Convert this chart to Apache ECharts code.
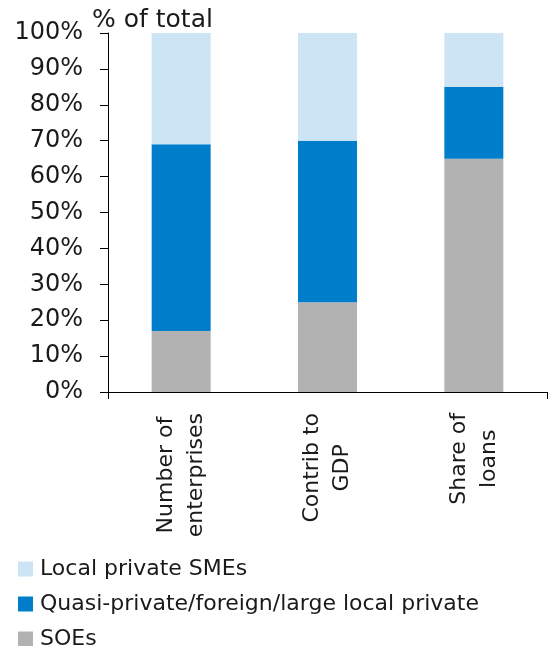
<!DOCTYPE html>
<html>
<head>
<meta charset="utf-8">
<script src="https://cdn.jsdelivr.net/npm/echarts@6/dist/echarts.min.js"></script>
<style>
  html, body { margin: 0; padding: 0; background: #fff; }
  #chart { width: 549px; height: 646px; }
</style>
</head>
<body>
<div id="chart"></div>
<script>
// Breakdown of enterprises, GDP and loans by ownership type (% of total)
const categories = ['Number of\nenterprises', 'Contrib to\nGDP', 'Share of\nloans'];
const soes = [17, 25, 65];
const quasiPrivate = [52, 45, 20];
const localSMEs = [31, 30, 15];
const seriesNames = ['SOEs', 'Quasi-private/foreign/large local private', 'Local private SMEs'];
const yTicks = [0, 10, 20, 30, 40, 50, 60, 70, 80, 90, 100];

const FONT = '"DejaVu Sans", Verdana, sans-serif';
const TEXT = '#1a1a1a';

const chart = echarts.init(document.getElementById('chart'), null, { renderer: 'canvas' });

const option = {
  animation: false,
  title: {
    text: '% of total',
    left: 87,
    top: 3,
    textStyle: { fontFamily: FONT, fontSize: 25, fontWeight: 'normal', color: TEXT }
  },
  grid: { left: 108, right: 2, top: 33, bottom: 254, containLabel: false },
  legend: {
    orient: 'vertical',
    left: 18,
    top: 558,
    height: 110,
    padding: 0,
    itemWidth: 15,
    itemHeight: 15,
    itemGap: 13,
    icon: 'rect',
    data: [seriesNames[2], seriesNames[1], seriesNames[0]],
    textStyle: { fontFamily: FONT, fontSize: 22, color: TEXT, padding: [0, 0, 0, 2] }
  },
  xAxis: {
    type: 'category',
    data: categories,
    axisLine: { show: true, lineStyle: { color: '#000', width: 1 } },
    axisTick: {
      show: true,
      length: 7,
      interval: function (index) { return index === 0; },
      lineStyle: { color: '#000' }
    },
    axisLabel: {
      rotate: 90,
      margin: 21,
      interval: 0,
      formatter: function (v) {
        return v.split('\n').map(function (s) { return '{c|' + s + '}'; }).join('\n');
      },
      rich: {
        c: { align: 'center', fontFamily: FONT, fontSize: 22, color: TEXT, lineHeight: 30 }
      }
    }
  },
  yAxis: {
    type: 'value',
    min: yTicks[0],
    max: yTicks[yTicks.length - 1],
    interval: 10,
    splitLine: { show: false },
    axisLine: { show: true, lineStyle: { color: '#000', width: 1 } },
    axisTick: { show: true, length: 8, lineStyle: { color: '#000' } },
    axisLabel: {
      formatter: '{value}%',
      margin: 25,
      fontFamily: FONT,
      fontSize: 24,
      color: TEXT
    }
  },
  series: [
    { name: seriesNames[0], type: 'bar', stack: 'total', data: soes, barWidth: 59, itemStyle: { color: '#b2b2b2' } },
    { name: seriesNames[1], type: 'bar', stack: 'total', data: quasiPrivate, barWidth: 59, itemStyle: { color: '#007ecc' } },
    { name: seriesNames[2], type: 'bar', stack: 'total', data: localSMEs, barWidth: 59, itemStyle: { color: '#cce4f3' } }
  ]
};

chart.setOption(option);
</script>
</body>
</html>
